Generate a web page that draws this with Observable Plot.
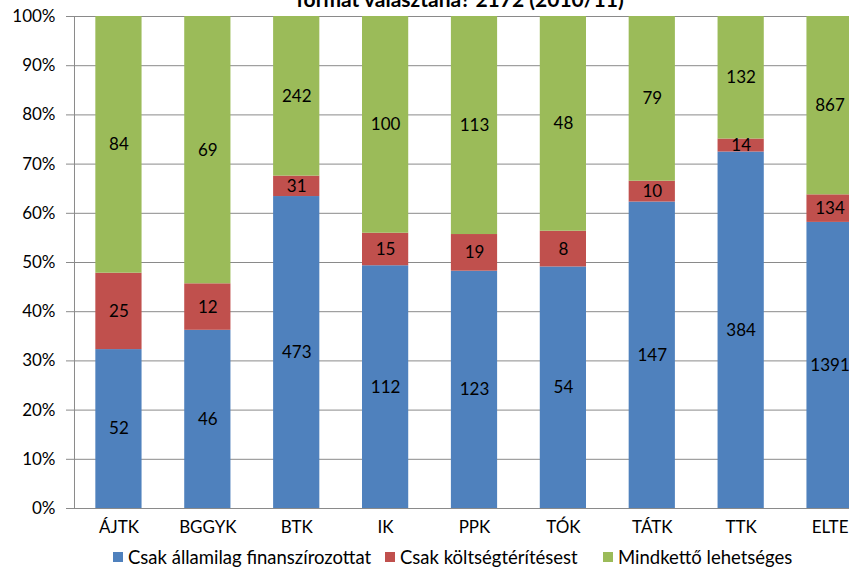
<!DOCTYPE html>
<html>
<head>
<meta charset="utf-8">
<script src="https://cdn.jsdelivr.net/npm/d3@7"></script>
<script src="https://cdn.jsdelivr.net/npm/@observablehq/plot@0.6"></script>
<style>
  html, body { margin: 0; padding: 0; background: #fff; }
  body { width: 849px; height: 567px; overflow: hidden; position: relative; font-family: Lato, "Open Sans", sans-serif; }
  #title { position: absolute; left: 0; width: 920px; top: -12px; text-align: center; font-weight: bold; font-size: 21px; line-height: 21px; color: #000; white-space: nowrap; }
  #chart { position: absolute; left: 0; top: 0; width: 880px; }
  #chart svg { max-width: none !important; }
  #legend { position: absolute; left: 0; top: 546px; width: 849px; height: 22px; font-size: 18.5px; color: #000; white-space: nowrap; }
  .item { position: absolute; top: 0; display: flex; align-items: center; }
  .sw { width: 10px; height: 10px; margin-right: 5px; }
</style>
</head>
<body>
<div id="title">formát választaná? 2172 (2010/11)</div>
<div id="chart"></div>
<div id="legend"></div>
<script>
const categories = ["ÁJTK", "BGGYK", "BTK", "IK", "PPK", "TÓK", "TÁTK", "TTK", "ELTE"];
const seriesNames = ["Csak államilag finanszírozottat", "Csak költségtérítésest", "Mindkettő lehetséges"];
const csakAllami = [52, 46, 473, 112, 123, 54, 147, 384, 1391];
const csakKoltseg = [25, 12, 31, 15, 19, 8, 10, 14, 134];
const mindketto = [84, 69, 242, 100, 113, 48, 79, 132, 867];
const colors = ["#4F81BD", "#C0504D", "#9BBB59"];
const yTicks = [0, 0.1, 0.2, 0.3, 0.4, 0.5, 0.6, 0.7, 0.8, 0.9, 1];

const seriesValues = [csakAllami, csakKoltseg, mindketto];
const data = [];
categories.forEach((c, i) => {
  seriesValues.forEach((vals, s) => {
    data.push({cat: c, series: seriesNames[s], value: vals[i]});
  });
});

const stackOpts = {offset: "normalize", x: "cat", y: "value", z: "series", order: null};

const chart = Plot.plot({
  width: 880,
  height: 540,
  marginLeft: 74,
  marginRight: 6,
  marginTop: 16,
  marginBottom: 32,
  style: {fontFamily: "Lato, 'Open Sans', sans-serif", fontSize: "17px", color: "#000", background: "transparent", maxWidth: "none"},
  x: {domain: categories, paddingInner: 0.48, paddingOuter: 0.24, round: false, label: null, tickSize: 0, tickPadding: 12},
  y: {domain: [0, 1], ticks: yTicks, tickFormat: d3.format(".0%"), label: null, tickSize: 8, tickPadding: 11},
  color: {domain: seriesNames, range: colors},
  marks: [
    Plot.ruleY(yTicks, {stroke: "#8a8a8a", strokeWidth: 1}),
    Plot.barY(data, Plot.stackY({...stackOpts, fill: "series"})),
    Plot.text(data, Plot.stackY({...stackOpts, text: d => String(d.value), fill: "#000", fontSize: 17})),
    Plot.ruleX([categories[0]], {stroke: "#8a8a8a", y1: 0, y2: 1, dx: -44.45})
  ]
});
chart.querySelectorAll("[aria-label='y-axis tick']").forEach(g => g.setAttribute("stroke", "#8a8a8a"));
document.getElementById("chart").appendChild(chart);

const legendX = [113, 385, 603];
const legend = document.getElementById("legend");
seriesNames.forEach((n, i) => {
  const it = document.createElement("div");
  it.className = "item";
  it.style.left = legendX[i] + "px";
  const sw = document.createElement("div");
  sw.className = "sw";
  sw.style.background = colors[i];
  const t = document.createElement("span");
  t.textContent = n;
  it.appendChild(sw); it.appendChild(t);
  legend.appendChild(it);
});
</script>
</body>
</html>
